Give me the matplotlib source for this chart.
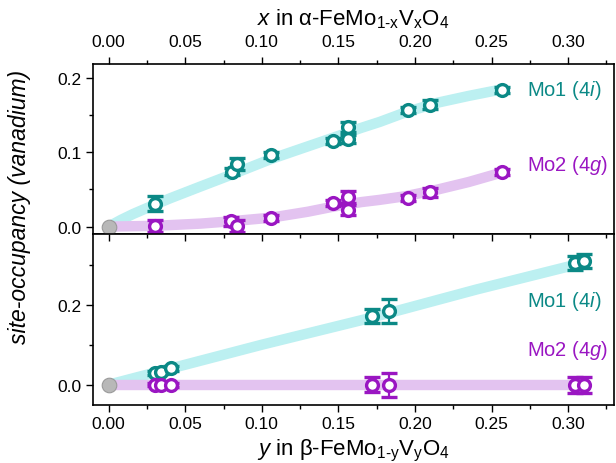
import numpy as np
import matplotlib.pyplot as plt

plt.rcParams['font.family'] = ['Liberation Sans', 'DejaVu Sans']
plt.rcParams['mathtext.fontset'] = 'custom'
plt.rcParams['mathtext.rm'] = 'Liberation Sans'
plt.rcParams['mathtext.it'] = 'Liberation Sans:italic'
plt.rcParams['mathtext.sf'] = 'Liberation Sans'

# alpha phase (top panel)
x_a = [0.0305, 0.0803, 0.0836, 0.1058, 0.1467, 0.1565, 0.1565, 0.1956, 0.2098, 0.2568]
mo1_a = [0.031, 0.074, 0.084, 0.096, 0.115, 0.118, 0.134, 0.157, 0.164, 0.184]
mo1_a_err = [0.010, 0.005, 0.008, 0.004, 0.004, 0.006, 0.007, 0.004, 0.006, 0.004]
x_a2 = [0.0305, 0.0799, 0.0836, 0.1058, 0.1467, 0.1565, 0.1565, 0.1956, 0.2098, 0.2568]
mo2_a = [0.001, 0.007, 0.001, 0.011, 0.032, 0.040, 0.022, 0.039, 0.046, 0.073]
mo2_a_err = [0.008, 0.006, 0.008, 0.004, 0.004, 0.008, 0.007, 0.004, 0.006, 0.004]

# guide curves
fit1_a_x = [0.0, 0.008, 0.016, 0.025, 0.04, 0.06, 0.079, 0.106, 0.13, 0.147, 0.165, 0.177, 0.194, 0.215, 0.235, 0.257]
fit1_a_y = [0.0, 0.009, 0.017, 0.025, 0.038, 0.054, 0.069, 0.091, 0.108, 0.120, 0.133, 0.141, 0.154, 0.167, 0.176, 0.185]
fit2_a_x = [0.0, 0.03, 0.06, 0.079, 0.106, 0.13, 0.147, 0.165, 0.177, 0.194, 0.215, 0.235, 0.257]
fit2_a_y = [0.0, 0.001, 0.004, 0.007, 0.012, 0.020, 0.027, 0.033, 0.036, 0.041, 0.050, 0.060, 0.073]

# beta phase (bottom panel)
x_b = [0.030, 0.034, 0.041, 0.1717, 0.1828, 0.3047, 0.3105]
mo1_b = [0.029, 0.032, 0.041, 0.172, 0.184, 0.304, 0.310]
mo1_b_err = [0.005, 0.005, 0.006, 0.018, 0.030, 0.018, 0.018]
mo2_b = [0.0, 0.0, 0.0, 0.0, 0.0, 0.0, 0.0]
mo2_b_err = [0.004, 0.004, 0.005, 0.018, 0.030, 0.020, 0.020]

fit1_b_x = [0.0, 0.041, 0.10, 0.172, 0.24, 0.31]
fit1_b_y = [0.0, 0.041, 0.100, 0.168, 0.238, 0.305]
fit2_b_x = [0.0, 0.31]
fit2_b_y = [0.0, 0.0]

teal = '#0b8986'
purple = '#9a16c2'
cyan_band = '#bcf0f1'
purple_band = '#e3c3f0'

fig = plt.figure(figsize=(6.16, 4.64), dpi=100)
ax1 = fig.add_axes([0.1515, 0.4935, 0.8453, 0.3664])
ax2 = fig.add_axes([0.1515, 0.1257, 0.8453, 0.3678])

mk = dict(fmt='o', ms=8.5, mfc='white', mew=2.4, elinewidth=1.6, capsize=5.5, capthick=1.6, zorder=3)

def panel(ax, f1x, f1y, f2x, f2y, xs1, y1, e1, xs2, y2, e2):
    ax.plot(f1x, f1y, color=cyan_band, lw=7.5, solid_capstyle='round', zorder=1)
    ax.plot(f2x, f2y, color=purple_band, lw=7.5, solid_capstyle='round', zorder=1)
    ax.errorbar(xs1, y1, yerr=e1, color=teal, mec=teal, **mk)
    ax.errorbar(xs2, y2, yerr=e2, color=purple, mec=purple, **mk)
    ax.plot([0], [0], 'o', ms=10.5, mfc='#b8b8b8', mec='#9a9a9a', mew=0.8, zorder=4, clip_on=False)
    ax.set_xlim(-0.01, 0.33)
    ax.tick_params(labelsize=12.5, width=1, length=5)
    ax.tick_params(which='minor', width=1, length=3)
    for s in ax.spines.values():
        s.set_linewidth(1.2)

panel(ax1, fit1_a_x, fit1_a_y, fit2_a_x, fit2_a_y, x_a, mo1_a, mo1_a_err, x_a2, mo2_a, mo2_a_err)
panel(ax2, fit1_b_x, fit1_b_y, fit2_b_x, fit2_b_y, x_b, mo1_b, mo1_b_err, x_b, mo2_b, mo2_b_err)

xt = [0.0, 0.05, 0.10, 0.15, 0.20, 0.25, 0.30]
xt_minor = [0.025, 0.075, 0.125, 0.175, 0.225, 0.275, 0.325]
xt_labels = ['0.00', '0.05', '0.10', '0.15', '0.20', '0.25', '0.30']

ax1.set_ylim(-0.01, 0.219)
ax1.set_yticks([0.0, 0.1, 0.2])
ax1.set_yticklabels(['0.0', '0.1', '0.2'])
ax1.set_yticks([0.05, 0.15], minor=True)
ax1.set_xticks(xt)
ax1.set_xticklabels(xt_labels)
ax1.set_xticks(xt_minor, minor=True)
ax1.tick_params(axis='x', which='both', top=True, bottom=False, labeltop=True, labelbottom=False,
                direction='out', pad=6)
ax1.tick_params(axis='y', which='both', left=True, right=False, direction='out')
ax1.set_xlabel(r'$x$ in α-FeMo$_{\mathrm{1\text{-}x}}$V$_{\mathrm{x}}$O$_4$', fontsize=16, labelpad=7)
ax1.xaxis.set_label_position('top')

ax2.set_ylim(-0.05, 0.377)
ax2.set_yticks([0.0, 0.2])
ax2.set_yticklabels(['0.0', '0.2'])
ax2.set_yticks([0.1, 0.3], minor=True)
ax2.set_xticks(xt)
ax2.set_xticklabels(xt_labels)
ax2.set_xticks(xt_minor, minor=True)
ax2.tick_params(axis='x', which='both', top=True, bottom=True, labeltop=False, labelbottom=True)
ax2.tick_params(axis='y', which='both', left=True, right=False, direction='out')
ax2.set_xlabel(r'$y$ in β-FeMo$_{\mathrm{1\text{-}y}}$V$_{\mathrm{y}}$O$_4$', fontsize=16, labelpad=4)

# inward ticks on the shared boundary, outward on the bottom
for t in ax2.xaxis.get_major_ticks() + ax2.xaxis.get_minor_ticks():
    t.tick2line.set_marker(3)
    t.tick1line.set_marker(3)

fig.text(0.032, 0.555, 'site-occupancy (vanadium)', rotation=90, fontsize=16.5, style='italic',
         ha='center', va='center')

ax1.text(0.2735, 0.184, r'Mo1 ($\mathit{4i}$)', color=teal, fontsize=14.5, va='center')
ax1.text(0.2735, 0.084, r'Mo2 ($\mathit{4g}$)', color=purple, fontsize=14.5, va='center')
ax2.text(0.2735, 0.21, r'Mo1 ($\mathit{4i}$)', color=teal, fontsize=14.5, va='center')
ax2.text(0.2735, 0.087, r'Mo2 ($\mathit{4g}$)', color=purple, fontsize=14.5, va='center')

plt.savefig('out.png', dpi=100)
